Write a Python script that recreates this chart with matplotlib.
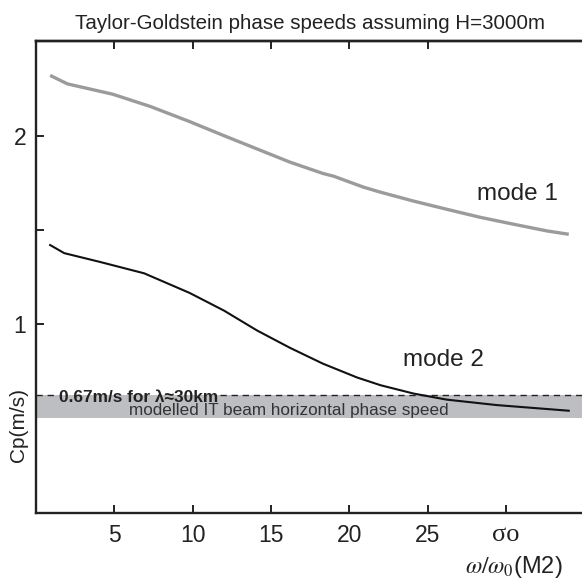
import matplotlib
matplotlib.use('Agg')
import matplotlib.pyplot as plt
import numpy as np

plt.rcParams['font.family'] = ['Liberation Sans', 'DejaVu Sans']
plt.rcParams['mathtext.fontset'] = 'stix'

# values
mode1_x = [0.9, 2.0, 4.9, 7.3, 9.8, 12.0, 14.1, 16.2, 18.3, 19.0, 20.9, 22.0, 24.1, 26.2, 28.3, 30.5, 32.6, 34.0]
mode1_y = [2.32, 2.275, 2.22, 2.155, 2.075, 2.0, 1.93, 1.86, 1.80, 1.785, 1.727, 1.70, 1.653, 1.61, 1.568, 1.53, 1.495, 1.477]

mode2_x = [0.9, 1.8, 4.1, 6.9, 9.8, 12.0, 14.1, 16.2, 18.3, 20.5, 22.0, 24.1, 26.2, 29.4, 34.0]
mode2_y = [1.42, 1.377, 1.33, 1.27, 1.166, 1.072, 0.967, 0.875, 0.791, 0.717, 0.676, 0.632, 0.60, 0.571, 0.541]

band_low = 0.505
band_high = 0.627   # dashed line sits on top of the band

xticks = [5, 10, 15, 20, 25, 30]
xticklabels = ['5', '10', '15', '20', '25', 'σo']
yticks = [1, 1.5, 2]
yticklabels = ['1', '', '2']

fig = plt.figure(figsize=(5.82, 5.79), dpi=100)
ax = fig.add_axes([0.0619, 0.1145, 0.9423, 0.8139])
ax.set_xlim(0, 35)
ax.set_ylim(0, 2.5)

ax.axhspan(band_low, band_high, color='#bdbec1', lw=0, zorder=1)
ax.plot(mode1_x, mode1_y, color='#9b9b9b', lw=2.4, zorder=3, solid_capstyle='butt')
ax.plot(mode2_x, mode2_y, color='#111111', lw=1.5, zorder=3)

t1 = ax.text(1.49, 0.588, '0.67m/s for λ≈30km', fontsize=12.4, fontweight='bold',
             color='#222222', va='baseline', ha='left', zorder=4)
ax.text(5.95, 0.518, 'modelled IT beam horizontal phase speed', fontsize=12.3,
        color='#333333', va='baseline', ha='left', zorder=4)

ax.text(30.7, 1.69, 'mode 1', fontsize=17.5, color='#222222', ha='center', va='center')
ax.text(26.0, 0.81, 'mode 2', fontsize=17.5, color='#222222', ha='center', va='center')

for s in ['left', 'bottom', 'top']:
    ax.spines[s].set_linewidth(1.7)
    ax.spines[s].set_color('#222222')
ax.spines['right'].set_visible(False)

ax.set_xticks(xticks)
ax.set_xticklabels(xticklabels, fontsize=16.5, color='#222222')
sig = ax.get_xticklabels()[-1]
sig.set_family(['Liberation Serif', 'DejaVu Serif'])
sig.set_fontsize(19)
ax.set_yticks(yticks)
ax.set_yticklabels(yticklabels, fontsize=16.5, color='#222222')
ax.tick_params(direction='in', length=6, width=1.4, color='#222222')
ax.tick_params(axis='x', pad=8)
ax.tick_params(axis='y', pad=7)

top = ax.secondary_xaxis('top')
top.set_xticks(xticks[:-1])
top.set_xticklabels([])
top.tick_params(direction='in', length=6, width=1.4, color='#222222')
top.spines['top'].set_linewidth(1.7)

ax.set_title('Taylor-Goldstein phase speeds assuming H=3000m', fontsize=14.8,
             color='#222222', pad=9)
ax.set_ylabel('Cp(m/s)', fontsize=15, color='#222222')
ax.yaxis.set_label_coords(-0.014, 0.186)
fig.text(0.966, 0.011, r'$\omega/\omega_{0}$(M2)', fontsize=17, color='#222222',
         ha='right', va='baseline')

# dashed line broken where the bold label sits
fig.canvas.draw()
bb = t1.get_window_extent().transformed(ax.transData.inverted())
ax.hlines(band_high, 0, bb.x0 - 0.15, colors='#222222', lw=1.0,
          linestyles=(0, (4.5, 3.5)), zorder=2)
ax.hlines(band_high, bb.x1 + 0.1, 35, colors='#222222', lw=1.0,
          linestyles=(0, (4.5, 3.5)), zorder=2)

fig.savefig('out.png', dpi=100)
